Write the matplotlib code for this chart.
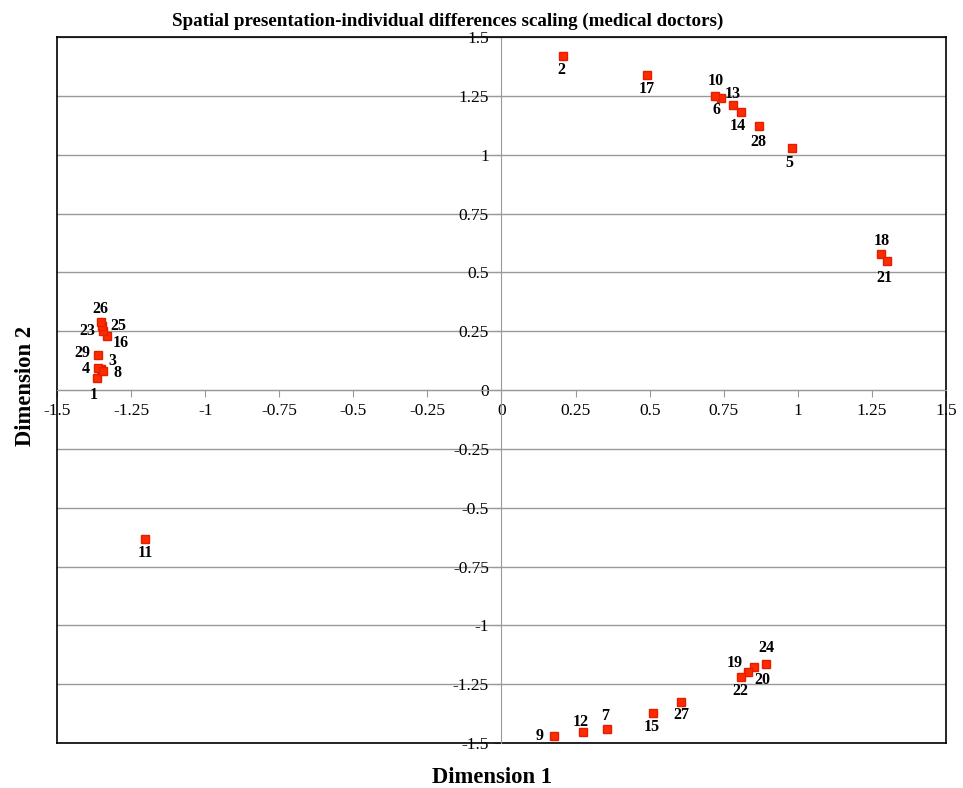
import matplotlib.pyplot as plt

# point ids and coordinates
ids = [1, 2, 3, 4, 5, 6, 7, 8, 9, 10, 11, 12, 13, 14, 15, 16, 17, 18, 19, 20,
       21, 22, 23, 24, 25, 26, 27, 28, 29]
dim1 = [-1.365, 0.208, -1.35, -1.36, 0.98, 0.74, 0.356, -1.345, 0.177, 0.72,
        -1.203, 0.275, 0.78, 0.81, 0.511, -1.33, 0.49, 1.28, 0.852, 0.832,
        1.30, 0.808, -1.344, 0.893, -1.347, -1.35, 0.606, 0.87, -1.36]
dim2 = [0.05, 1.42, 0.088, 0.095, 1.03, 1.24, -1.44, 0.08, -1.47, 1.25,
        -0.633, -1.453, 1.21, 1.18, -1.373, 0.23, 1.34, 0.58, -1.177, -1.2,
        0.55, -1.22, 0.25, -1.164, 0.27, 0.29, -1.326, 1.12, 0.15]

ticks = [-1.5, -1.25, -1, -0.75, -0.5, -0.25, 0, 0.25, 0.5, 0.75, 1, 1.25, 1.5]
tick_labels = ['-1.5', '-1.25', '-1', '-0.75', '-0.5', '-0.25', '0',
               '0.25', '0.5', '0.75', '1', '1.25', '1.5']

# label offsets in pixels (dx right, dy down)
label_offsets = {
    1: (-3, 17), 2: (-2, 14), 3: (11, -8), 4: (-13, 1), 5: (-2, 15),
    6: (-4, 12), 7: (-2, -13), 8: (15, 2), 9: (-14, 0), 10: (1, -15),
    11: (0, 14), 12: (-2, -10), 13: (0, -11), 14: (-4, 14), 15: (-1, 14),
    16: (13, 7), 17: (0, 14), 18: (1, -13), 19: (-19, -4), 20: (14, 8),
    21: (-2, 17), 22: (-1, 14), 23: (-16, 0), 24: (0, -16), 25: (16, 0),
    26: (-1, -13), 27: (0, 13), 28: (-1, 16), 29: (-16, -2),
}

plt.rcParams['font.family'] = ['Liberation Serif', 'DejaVu Serif']

fig = plt.figure(figsize=(9.63, 7.88), dpi=100)
ax = fig.add_axes([0.0592, 0.0571, 0.9231, 0.8959])

ax.set_xlim(-1.5, 1.5)
ax.set_ylim(-1.5, 1.5)

for y in ticks:
    ax.axhline(y, color='#999999', lw=1, zorder=0)

# axis lines through zero, frame drawn in black
ax.spines['left'].set_position(('data', 0))
ax.spines['bottom'].set_position(('data', 0))
ax.spines['left'].set_color('#999999')
ax.spines['bottom'].set_color('#999999')
for s in ['top', 'right']:
    ax.spines[s].set_color('black')
    ax.spines[s].set_linewidth(1.2)
ax.plot([0, 0], [0, 1], transform=ax.transAxes, color='black', lw=1.2, clip_on=False)
ax.plot([0, 1], [0, 0], transform=ax.transAxes, color='black', lw=1.2, clip_on=False)

ax.set_xticks(ticks)
ax.set_xticklabels(tick_labels)
ax.set_yticks(ticks)
ax.set_yticklabels(tick_labels)
ax.tick_params(axis='both', direction='out', length=5, color='#999999',
               labelsize=12.5, pad=4)

ax.plot(dim1, dim2, linestyle='none', marker='s', markersize=5.5,
        markerfacecolor='#ff2a00', markeredgecolor='#e02000', zorder=3)

for i, x, y in zip(ids, dim1, dim2):
    dx, dy = label_offsets[i]
    ax.annotate(str(i), (x, y), xytext=(dx, -dy), textcoords='offset pixels',
                ha='center', va='center', fontsize=11.5, fontweight='bold')

ax.set_title('Spatial presentation-individual differences scaling (medical doctors)',
             fontsize=13.7, fontweight='bold', y=1.0, pad=8, x=0.44)
fig.text(0.511, 0.0, 'Dimension 1', ha='center', va='bottom',
         fontsize=16.3, fontweight='bold')
fig.text(0.026, 0.51, 'Dimension 2', ha='center', va='center', rotation=90,
         fontsize=16.3, fontweight='bold')

fig.savefig('out.png', dpi=100)
